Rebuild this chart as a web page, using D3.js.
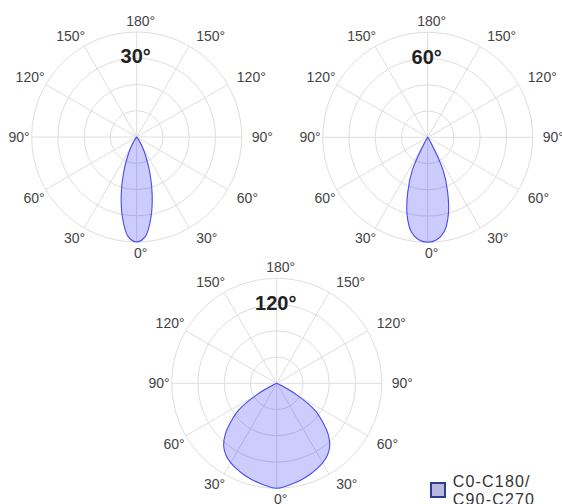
<!DOCTYPE html>
<html>
<head>
<meta charset="utf-8">
<script src="https://cdn.jsdelivr.net/npm/d3@7"></script>
<style>
  body { margin: 0; background: #fff; }
  svg { display: block; font-family: "Liberation Sans", Arial, Helvetica, sans-serif; }
</style>
</head>
<body>
<svg id="chart" width="562" height="504"></svg>
<script>
// Relative luminous intensity (%) vs gamma angle, symmetric about 0°
const gammaAngles = [0, 5, 10, 15, 20, 25, 30, 35, 40, 45, 50, 55, 60, 65, 70, 75, 80, 85, 90];
const beam30  = [100, 95, 78, 57, 37, 21, 10, 4, 1, 0, 0, 0, 0, 0, 0, 0, 0, 0, 0];
const beam60  = [100, 98, 91, 76, 55.5, 35, 7, 0, 0, 0, 0, 0, 0, 0, 0, 0, 0, 0, 0];
const beam120 = [100, 98.5, 96.5, 94.5, 92.5, 90, 87.5, 84, 78.5, 69.5, 57, 44, 22, 4, 0, 0, 0, 0, 0];

const ringTicks = [25, 50, 75, 100];
const spokeAngles = [0, 30, 60, 90, 120, 150, 180, 210, 240, 270, 300, 330];
const angleLabels = [0, 30, 60, 90, 120, 150, 180];
const beamTitles = ["30°", "60°", "120°"];
const legendLines = ["C0-C180/", "C90-C270"];

const svg = d3.select('#chart');
const outerR = 105;
const labelR = 111;

const panels = [
    { title: beamTitles[0], values: beam30,  cx: 136.7, cy: 137 },
    { title: beamTitles[1], values: beam60,  cx: 427.7, cy: 137.3 },
    { title: beamTitles[2], values: beam120, cx: 276.7, cy: 383.3 }
];

const rad = d => d * Math.PI / 180;

function drawPanel(p) {
    const r = d3.scaleLinear().domain([0, 100]).range([0, outerR]);
    const g = svg.append("g").attr("transform", `translate(${p.cx},${p.cy})`);

    // grid rings
    g.selectAll("circle.ring")
        .data(ringTicks)
        .enter().append("circle")
        .attr("class", "ring")
        .attr("r", d => r(d))
        .attr("fill", "none")
        .attr("stroke", "#dedede")
        .attr("stroke-width", 1);

    // spokes
    g.selectAll("line.spoke")
        .data(spokeAngles)
        .enter().append("line")
        .attr("class", "spoke")
        .attr("x1", 0).attr("y1", 0)
        .attr("x2", d => r(100) * Math.sin(rad(d)))
        .attr("y2", d => r(100) * Math.cos(rad(d)))
        .attr("stroke", "#dedede")
        .attr("stroke-width", 1);

    // intensity curve (0° points down)
    const pts = [];
    gammaAngles.forEach((a, i) => pts.push([Math.PI - rad(a), p.values[i]]));
    for (let i = gammaAngles.length - 2; i >= 1; i--) {
        pts.push([Math.PI + rad(gammaAngles[i]), p.values[i]]);
    }
    const line = d3.lineRadial()
        .angle(d => d[0])
        .radius(d => r(d[1]))
        .curve(d3.curveCatmullRomClosed.alpha(0.5));
    g.append("path")
        .attr("d", line(pts))
        .attr("fill", "rgba(0,0,255,0.2)")
        .attr("stroke", "#4a4af0")
        .attr("stroke-width", 1.1);

    // angle labels
    const labs = [];
    angleLabels.forEach(v => {
        if (v === 0 || v === 180) labs.push({ v, s: 1 });
        else { labs.push({ v, s: -1 }); labs.push({ v, s: 1 }); }
    });
    g.selectAll("text.ang")
        .data(labs)
        .enter().append("text")
        .attr("class", "ang")
        .text(d => d.v + "°")
        .attr("font-size", "14px")
        .attr("fill", "#444")
        .attr("text-anchor", d => {
            const dx = d.s * Math.sin(rad(d.v));
            return dx > 0.01 ? "start" : dx < -0.01 ? "end" : "middle";
        })
        .attr("x", d => labelR * d.s * Math.sin(rad(d.v)) + 4)
        .attr("y", d => {
            const dy = Math.cos(rad(d.v));
            const y = labelR * dy;
            if (dy > 0.01) return y + 10;
            if (dy < -0.01) return y;
            return y + 5;
        });

    // title
    g.append("text")
        .text(p.title)
        .attr("x", -1)
        .attr("y", -73.7)
        .attr("text-anchor", "middle")
        .attr("font-size", "20px")
        .attr("font-weight", "bold")
        .attr("fill", "#222");
}

panels.forEach(drawPanel);

// legend
const lg = svg.append("g").attr("transform", "translate(430,482)");
lg.append("rect")
    .attr("x", 1).attr("y", 1)
    .attr("width", 14).attr("height", 14)
    .attr("fill", "#b8b8de")
    .attr("stroke", "#2c3e91")
    .attr("stroke-width", 2);
lg.selectAll("text")
    .data(legendLines)
    .enter().append("text")
    .text(d => d)
    .attr("x", 22.7)
    .attr("y", (d, i) => 4.7 + i * 18.5)
    .attr("font-size", "16px")
    .attr("letter-spacing", "1.2px")
    .attr("fill", "#333");
</script>
</body>
</html>
